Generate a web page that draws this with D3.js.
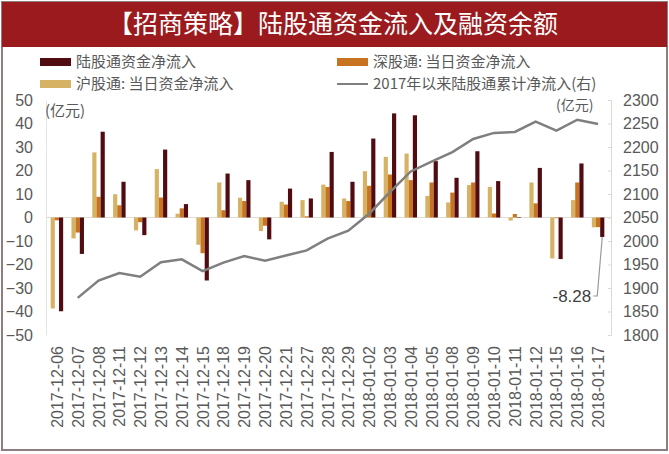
<!DOCTYPE html>
<html><head><meta charset="utf-8">
<script src="https://cdn.jsdelivr.net/npm/d3@7"></script>
<style>
html,body{margin:0;padding:0;background:#fff;}
svg text{font-family:"Liberation Sans",Arial,sans-serif;}
.cjk{font-family:"Noto Sans CJK SC","Noto Sans",sans-serif;}
</style></head>
<body>
<svg id="chart" width="669" height="454"></svg>
<script>
const dates = ["2017-12-06","2017-12-07","2017-12-08","2017-12-11","2017-12-12","2017-12-13","2017-12-14","2017-12-15","2017-12-18","2017-12-19","2017-12-20","2017-12-21","2017-12-27","2017-12-28","2017-12-29","2018-01-02","2018-01-03","2018-01-04","2018-01-05","2018-01-08","2018-01-09","2018-01-10","2018-01-11","2018-01-12","2018-01-15","2018-01-16","2018-01-17"];
const huFlow = [-38.7,-8.9,27.7,9.9,-5.5,20.6,1.6,-11.6,14.9,8.4,-5.8,6.7,7.4,14.0,8.1,19.7,25.8,27.2,9.2,6.4,13.8,13.0,-1.3,14.9,-17.4,7.4,-4.2];
const shenFlow = [-1.2,-6.4,8.8,5.2,-2.0,8.5,3.9,-15.2,3.1,7.0,-3.5,5.5,0.5,13.0,7.0,13.5,18.3,15.9,14.9,10.6,14.9,1.7,1.5,6.0,-0.3,14.9,-4.1];
const luFlow = [-39.9,-15.5,36.5,15.2,-7.5,28.9,5.7,-26.8,18.7,15.9,-9.3,12.3,8.1,27.9,15.2,33.6,44.3,43.5,24.0,16.9,28.2,15.5,0.2,21.1,-17.7,23.0,-8.28];
const cumFlow = [null,1879,1916,1932,1924,1955,1961,1936,1954,1968,1958,1969,1980,2005,2022,2058,2104,2148,2169,2189,2217,2230,2232,2254,2235,2258,2249];
const leftTicks = [-50,-40,-30,-20,-10,0,10,20,30,40,50];
const rightTicks = [1800,1850,1900,1950,2000,2050,2100,2150,2200,2250,2300];
const seriesNames = ["沪股通: 当日资金净流入","深股通: 当日资金净流入","陆股通资金净流入"];
const lineName = "2017年以来陆股通累计净流入(右)";
const titleText = "【招商策略】陆股通资金流入及融资余额";
const unitText = "(亿元)";
const lastLabel = "-8.28";
const colors = ["#d5b264","#c8731f","#500c11"];

const svg = d3.select("#chart");
// frame & banner
svg.append("rect").attr("x",2).attr("y",2).attr("width",665).attr("height",448)
  .attr("fill","#fff").attr("stroke","#8d7f7f").attr("stroke-width",2);
svg.append("rect").attr("x",2).attr("y",2).attr("width",665).attr("height",45).attr("fill","#9b1a1e");
svg.append("text").attr("class","cjk").attr("x",333).attr("y",33).attr("text-anchor","middle")
  .attr("fill","#fff").attr("font-size",25).text(titleText);

const x0 = d3.scaleBand().domain(dates).range([46.5,608.5]).paddingInner(0.4).paddingOuter(0.2);
const x1 = d3.scaleBand().domain([0,1,2]).range([0,x0.bandwidth()]);
const yL = d3.scaleLinear().domain([-50,50]).range([335,100]);
const yR = d3.scaleLinear().domain([1800,2300]).range([335,100]);

// left axis
const gL = svg.append("g").attr("transform","translate(46,0)")
  .call(d3.axisLeft(yL).tickValues(leftTicks).tickSize(0).tickPadding(13).tickFormat(d3.format("d")));
gL.select(".domain").attr("stroke","#e4e4e4");
gL.selectAll("text").attr("fill","#595959").attr("font-size",16);
// right axis
const gR = svg.append("g").attr("transform","translate(611,0)")
  .call(d3.axisRight(yR).tickValues(rightTicks).tickSize(-3).tickPadding(12).tickFormat(d3.format("d")));
gR.select(".domain").attr("stroke","#d9d9d9");
gR.selectAll(".tick line").attr("stroke","#d9d9d9");
gR.selectAll("text").attr("fill","#595959").attr("font-size",16);

// zero line
svg.append("line").attr("x1",46).attr("x2",611).attr("y1",yL(0)).attr("y2",yL(0))
  .attr("stroke","#e0dcd6").attr("stroke-width",1);

// bars
const seriesVals = [huFlow, shenFlow, luFlow];
seriesVals.forEach((vals,si)=>{
  svg.append("g").selectAll("rect").data(vals).join("rect")
    .attr("x",(d,i)=>x0(dates[i])+x1(si))
    .attr("width",x1.bandwidth())
    .attr("y",d=>yL(Math.max(0,d)))
    .attr("height",d=>Math.abs(yL(d)-yL(0)))
    .attr("fill",colors[si]);
});

// line
const line = d3.line().defined(d=>d.v!==null)
  .x(d=>x0(d.k)+x0.bandwidth()/2).y(d=>yR(d.v));
svg.append("path").datum(dates.map((k,i)=>({k,v:cumFlow[i]})))
  .attr("d",line).attr("fill","none").attr("stroke","#7f7f7f").attr("stroke-width",2.5);

// x labels
svg.append("g").selectAll("text").data(dates).join("text")
  .attr("transform",d=>`translate(${x0(d)+x0.bandwidth()/2+6},346) rotate(-90)`)
  .attr("text-anchor","end").attr("fill","#595959").attr("font-size",16).text(d=>d);

// units
svg.append("text").attr("class","cjk").attr("x",45).attr("y",116).attr("fill","#595959").attr("font-size",15).text(unitText);
svg.append("text").attr("class","cjk").attr("x",556).attr("y",110).attr("fill","#595959").attr("font-size",14).text(unitText);

// annotation
const li = dates.length-1;
const ax = x0(dates[li])+x1(2)+x1.bandwidth()/2;
const ay = yL(luFlow[li]);
svg.append("path").attr("d",`M${ax},${ay}L${ax-5},296L${ax-9},296`).attr("fill","none").attr("stroke","#9a9a9a").attr("stroke-width",1.2);
svg.append("text").attr("x",ax-11).attr("y",302).attr("text-anchor","end").attr("fill","#404040").attr("font-size",17).text(lastLabel);

// legend
const leg = [
  {name:seriesNames[2], c:colors[2], x:40, y:62, t:"rect"},
  {name:seriesNames[1], c:colors[1], x:337, y:62, t:"rect"},
  {name:seriesNames[0], c:colors[0], x:40, y:84, t:"rect"},
  {name:lineName, c:"#7f7f7f", x:337, y:84, t:"line"}
];
leg.forEach(l=>{
  if(l.t==="rect") svg.append("rect").attr("x",l.x).attr("y",l.y-4).attr("width",31).attr("height",8).attr("fill",l.c);
  else svg.append("line").attr("x1",l.x).attr("x2",l.x+31).attr("y1",l.y).attr("y2",l.y).attr("stroke",l.c).attr("stroke-width",2);
  svg.append("text").attr("class","cjk").attr("x",l.x+36).attr("y",l.y+5).attr("fill","#595959").attr("font-size",15).text(l.name);
});
</script>
</body></html>
